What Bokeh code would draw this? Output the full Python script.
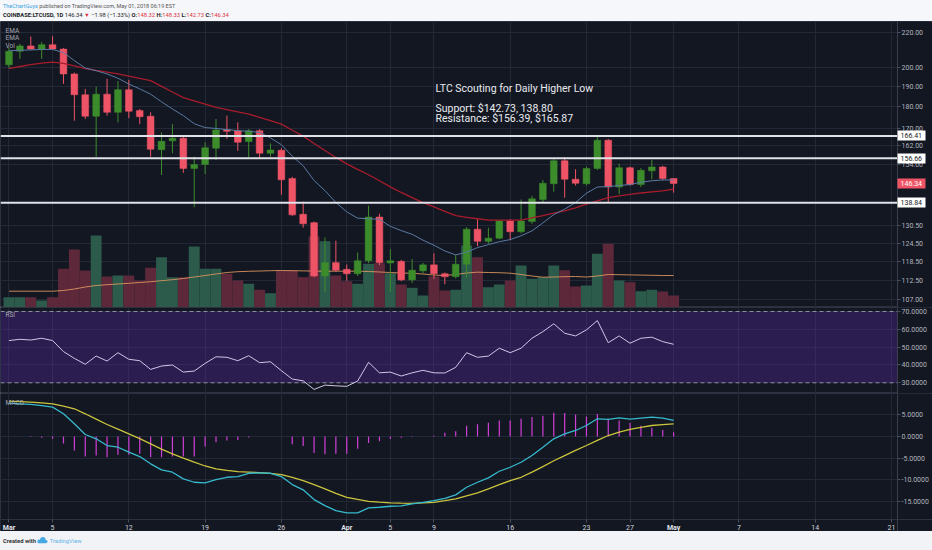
import numpy as np
import pandas as pd
from bokeh.plotting import figure
from bokeh.layouts import column
from bokeh.models import (ColumnDataSource, Range1d, LinearScale, FixedTicker, Grid,
                          LinearAxis, PrintfTickFormatter, Span, Label, Div, BoxAnnotation)
from bokeh.embed import file_html
from bokeh.resources import INLINE

# ---------------- data ----------------
dates = pd.date_range("2018-03-01", "2018-05-01", freq="D")

open_ = [201.7, 209.3, 212.3, 210.3, 213.0, 210.5, 196.8, 186.0, 175.5, 186.3,
         177.4, 188.6, 178.2, 175.5, 160.3, 164.2, 165.4, 152.4, 154.0, 161.0,
         169.2, 168.8, 163.9, 168.8, 158.8, 160.1, 148.3, 134.6, 131.6, 113.9,
         118.1, 116.0, 114.6, 118.7, 133.6, 118.0, 118.5, 112.7, 115.5, 117.4,
         114.6, 113.7, 117.6, 129.3, 125.1, 126.2, 132.2, 128.4, 132.0, 140.1,
         146.2, 155.6, 148.0, 146.2, 152.4, 164.5, 144.9, 152.7, 145.9, 151.4,
         153.0, 148.32]
high = [211.5, 213.5, 217.8, 214.5, 218.0, 211.0, 197.5, 189.0, 190.2, 194.2,
        193.0, 193.7, 179.0, 177.4, 168.0, 171.8, 166.0, 157.3, 163.6, 174.2,
        175.8, 172.6, 169.5, 169.5, 163.1, 161.0, 149.0, 139.3, 132.0, 126.4,
        125.3, 117.5, 121.4, 137.8, 134.8, 122.5, 119.0, 119.2, 118.0, 121.1,
        115.0, 120.6, 130.0, 132.8, 129.8, 132.6, 132.8, 140.1, 141.5, 147.7,
        156.3, 157.0, 152.1, 153.2, 165.9, 165.1, 154.4, 153.2, 152.5, 155.9,
        153.5, 148.33]
low = [200.0, 205.0, 210.0, 205.0, 210.0, 191.6, 173.4, 174.2, 157.3, 175.8,
       172.6, 174.6, 171.8, 157.3, 149.7, 158.8, 150.6, 137.2, 150.1, 155.9,
       165.1, 159.8, 157.0, 156.5, 157.3, 141.9, 134.0, 129.8, 113.5, 109.0,
       115.2, 112.4, 113.9, 118.0, 117.3, 109.0, 112.3, 111.8, 114.8, 113.0,
       111.4, 113.2, 113.4, 123.5, 124.3, 125.8, 125.5, 127.8, 131.2, 138.9,
       143.1, 140.8, 145.5, 145.5, 151.8, 138.9, 142.1, 145.4, 144.9, 148.0,
       147.6, 142.73]
close = [209.3, 212.3, 210.5, 213.0, 210.5, 196.8, 186.0, 175.5, 186.3, 177.4,
         188.6, 177.9, 175.3, 160.5, 164.0, 165.4, 152.4, 154.0, 161.2, 169.1,
         168.5, 163.6, 168.8, 158.8, 160.2, 147.8, 134.4, 131.2, 113.9, 118.1,
         115.7, 114.6, 118.7, 133.6, 118.1, 118.7, 112.7, 115.7, 117.4, 114.6,
         113.7, 117.6, 129.3, 125.1, 126.2, 132.2, 128.4, 132.2, 140.4, 146.4,
         155.6, 148.0, 146.4, 152.4, 164.5, 144.9, 152.7, 145.9, 151.6, 153.0,
         148.32, 146.34]
ema_fast = [209.5, 209.8, 210.0, 210.3, 210.3, 208.5, 204.0, 200.0, 198.5, 196.8,
            194.5, 191.5, 189.0, 186.3, 182.5, 179.0, 175.8, 172.0, 170.2, 169.8,
            169.3, 168.8, 168.5, 168.0, 165.5, 162.5, 157.5, 153.5, 147.5, 143.5,
            139.0, 135.5, 133.2, 133.0, 132.8, 130.3, 128.8, 127.5, 125.5, 123.8,
            121.9, 120.6, 121.5, 123.0, 124.0, 125.0, 125.7, 127.0, 128.7, 131.5,
            134.5, 136.5, 139.0, 142.5, 144.9, 145.1, 145.5, 145.9, 146.8, 147.4,
            147.7, 147.7]
ema_slow = [199.7, 200.8, 201.8, 202.6, 203.2, 202.5, 201.2, 199.7, 198.7, 197.8,
            196.8, 195.6, 194.4, 193.3, 190.3, 187.4, 184.6, 183.0, 181.4, 179.8,
            178.7, 177.6, 176.5, 175.0, 173.4, 171.8, 169.0, 166.3, 163.0, 160.0,
            157.0, 154.3, 152.0, 149.8, 147.4, 145.0, 142.8, 140.8, 138.9, 137.3,
            135.7, 134.1, 133.5, 133.0, 132.5, 132.5, 132.5, 132.5, 133.3, 134.1,
            135.0, 135.9, 137.0, 138.4, 139.6, 140.8, 141.5, 142.1, 142.6, 143.0,
            143.4, 144.1]
volume = [103, 103, 103, 70, 103, 387, 580, 370, 720, 310,
          320, 320, 270, 397, 503, 303, 303, 610, 387, 387,
          337, 270, 237, 177, 143, 370, 373, 303, 710, 663,
          320, 263, 237, 437, 443, 343, 230, 197, 120, 310,
          170, 177, 620, 503, 203, 230, 270, 420, 287, 303,
          420, 373, 210, 220, 537, 637, 270, 253, 163, 177,
          160, 120]
vol_ma = [163, 163, 163, 163, 163, 170, 185, 205, 220, 228,
          235, 242, 250, 258, 268, 278, 290, 305, 320, 335,
          350, 358, 362, 365, 368, 370, 368, 366, 364, 363,
          363, 363, 363, 360, 355, 350, 345, 342, 335, 325,
          320, 330, 345, 353, 350, 348, 343, 330, 315, 303,
          305, 308, 310, 305, 315, 330, 328, 326, 324, 322,
          320, 320]
rsi = [53.7, 54.4, 54.0, 55.0, 53.7, 47.5, 43.7, 40.4, 45.0, 42.2,
       46.9, 43.2, 42.4, 37.5, 39.4, 40.0, 36.0, 36.6, 40.9, 44.6,
       44.3, 42.4, 45.2, 41.3, 41.8, 36.8, 32.1, 31.1, 26.3, 28.7,
       28.3, 28.0, 31.0, 41.5, 35.6, 36.0, 33.8, 35.6, 37.0, 35.6,
       35.5, 38.7, 46.9, 44.3, 45.0, 49.4, 46.9, 49.4, 55.0, 58.7,
       63.1, 57.8, 56.3, 59.7, 64.9, 52.5, 56.3, 52.2, 55.0, 55.6,
       53.1, 51.6]
macd = [7.69, 7.55, 7.39, 7.10, 6.77, 5.24, 2.93, 0.46, -0.53, -2.08,
        -2.47, -3.62, -4.62, -6.30, -7.69, -8.24, -9.77, -10.55, -10.69, -9.93,
        -9.40, -9.24, -8.48, -8.38, -8.48, -9.24, -11.09, -12.30, -14.55, -15.94,
        -17.09, -17.62, -17.62, -16.47, -16.32, -16.09, -16.00, -15.54, -15.17, -14.78,
        -14.25, -13.46, -11.70, -10.55, -9.54, -8.01, -7.09, -5.93, -4.39, -2.47,
        -0.53, 0.62, 1.39, 2.54, 4.09, 3.93, 4.32, 4.00, 4.23, 4.46,
        4.23, 3.70]
signal = [8.15, 8.05, 7.92, 7.75, 7.55, 7.00, 6.40, 5.24, 4.00, 2.77,
          1.70, 0.62, -0.50, -1.69, -2.90, -4.00, -5.00, -5.93, -6.80, -7.46,
          -7.80, -8.08, -8.20, -8.31, -8.50, -8.78, -9.40, -10.16, -11.10, -12.08,
          -13.10, -14.02, -14.50, -14.94, -15.15, -15.31, -15.38, -15.40, -15.30, -15.17,
          -14.80, -14.39, -13.70, -13.00, -12.10, -11.09, -10.20, -9.40, -8.20, -6.93,
          -5.60, -4.39, -3.20, -2.08, -0.90, 0.23, 1.00, 1.62, 2.10, 2.54,
          2.75, 2.93]
hist = [0.0, 0.0, -0.1, -0.3, -0.5, -1.6, -3.2, -4.6, -4.4, -4.8,
        -4.2, -4.2, -4.0, -4.8, -4.8, -4.6, -4.6, -4.6, -2.3, -1.3,
        -0.9, -0.8, -0.2, 0.0, 0.0, 0.0, -1.8, -2.2, -3.8, -4.1,
        -4.0, -4.0, -2.8, -1.5, -1.1, -0.6, -0.3, -0.1, 0.0, 0.15,
        0.85, 1.2, 2.5, 2.8, 3.2, 3.7, 3.7, 4.1, 4.5, 4.8,
        5.5, 5.4, 5.1, 4.6, 5.2, 4.1, 3.7, 3.1, 2.5, 2.0,
        1.5, 1.0]

tick_dates = pd.to_datetime(["2018-03-01", "2018-03-05", "2018-03-12", "2018-03-19",
                             "2018-03-26", "2018-04-01", "2018-04-05", "2018-04-09",
                             "2018-04-16", "2018-04-23", "2018-04-27", "2018-05-01",
                             "2018-05-07", "2018-05-14", "2018-05-21"])
tick_labels = ["Mar", "5", "12", "19", "26", "Apr", "5", "9", "16", "23", "27",
               "May", "7", "14", "21"]
month_labels = ["Mar", "Apr", "May"]
price_ticks = [107, 112.5, 118.5, 124.5, 130.5, 154, 162, 170, 180, 190, 200, 220]
rsi_ticks = [30, 40, 50, 60, 70]
macd_ticks = [-15, -10, -5, 0, 5]
levels = [166.41, 156.66, 138.84]
last_price = 146.34
note_title = "LTC Scouting for Daily Higher Low"
note_support = "Support: $142.73, 138.80"
note_resist = "Resistance: $156.39, $165.87"

# ---------------- styling / layout ----------------
BG = "#131722"
GRID = "#232836"
UP = "#3d8c2c"
DOWN = "#ef5466"
UPV = "#2c5a4b"
DOWNV = "#5e283b"
W = 932
FONT = "Roboto"
X0, XE = -0.78, 84.76        # full frame, incl. price-scale strip
XA = 81.55                   # where the price scale starts
MACD_BOTTOM = -19.15         # level of the time axis inside the MACD pane

x = np.asarray((dates - dates[0]).days, dtype=float)
tick_x = [float(v) for v in (tick_dates - dates[0]).days]
up = [c >= o for o, c in zip(open_, close)]
src = ColumnDataSource(dict(
    x=x, o=open_, h=high, l=low, c=close,
    top=np.maximum(open_, close), bottom=np.minimum(open_, close),
    color=[UP if u else DOWN for u in up],
    vol=volume, vcolor=[UPV if u else DOWNV for u in up],
))

xr = Range1d(X0, XE)


def make_fig(fh, ticks, fmt, **kw):
    f = figure(output_backend="svg", toolbar_location=None, tools="",
               frame_width=W, frame_height=fh, x_range=xr,
               x_axis_location=None, y_axis_location=None,
               background_fill_color=BG, border_fill_color=BG,
               outline_line_color="#2e3240", min_border=0, **kw)
    f.grid.grid_line_color = None
    f.add_layout(Grid(dimension=0, ticker=FixedTicker(ticks=tick_x),
                      grid_line_color=GRID, grid_line_width=1))
    f.add_layout(Grid(dimension=1, ticker=FixedTicker(ticks=ticks),
                      grid_line_color=GRID, grid_line_width=1))
    return f


def cover_scale(f):
    f.add_layout(BoxAnnotation(left=XA, fill_color=BG, fill_alpha=1.0,
                               line_color=None, level="underlay"))


def price_axis(f, ticks, fmt):
    ax = LinearAxis(ticker=FixedTicker(ticks=ticks),
                    formatter=PrintfTickFormatter(format=fmt), fixed_location=XA,
                    axis_line_color="#3a3e4b", major_tick_line_color="#4a4e5a",
                    major_tick_out=3, major_tick_in=0, minor_tick_line_color=None,
                    major_label_standoff=1, major_label_text_font=FONT,
                    major_label_text_font_size="7px", major_label_text_color="#b2b5be")
    f.add_layout(ax, "right")


def tag_axis(f, ticks, fill, text_color):
    ax = LinearAxis(ticker=FixedTicker(ticks=ticks),
                    formatter=PrintfTickFormatter(format="%.2f"),
                    fixed_location=XA, axis_line_color=None,
                    major_tick_out=28, major_tick_in=0, major_tick_line_width=10,
                    major_tick_line_color=fill, major_tick_line_cap="butt",
                    minor_tick_line_color=None, major_label_standoff=-25,
                    major_label_text_font=FONT, major_label_text_font_size="7px",
                    major_label_text_color=text_color)
    f.add_layout(ax, "right")


def corner(f, text, ytop):
    f.add_layout(Label(x=5, y=ytop, x_units="screen", y_units="screen", text=text,
                       text_font=FONT, text_font_size="6.5px", text_color="#a3a6af",
                       text_baseline="middle"))


# ---- main price pane ----
MH = 286
p = make_fig(MH, price_ticks, "%.2f", y_axis_type="log", y_range=Range1d(104.6, 226.8))
cover_scale(p)
p.extra_y_ranges = {"vol": Range1d(0, 2860)}
p.extra_y_scales = {"vol": LinearScale()}
p.vbar(x="x", top="vol", bottom=0, width=1.0, fill_color="vcolor", line_color=None,
       y_range_name="vol", source=src)
p.line(x, vol_ma, y_range_name="vol", line_color="#e39a62", line_width=1, line_alpha=0.85)
p.segment(x0="x", y0="h", x1="x", y1="l", line_color="color", line_width=1, source=src)
p.vbar(x="x", top="top", bottom="bottom", width=0.62, fill_color="color",
       line_color="color", line_width=0.5, source=src)
p.line(x, ema_slow, line_color="#a81c2c", line_width=1.3)
p.line(x, ema_fast, line_color="#5a7aa2", line_width=1)
p.segment(x0=[X0] * len(levels), y0=levels, x1=[XA] * len(levels), y1=levels,
          line_color="#dfe2e8", line_width=2)
price_axis(p, price_ticks, "%.2f")
tag_axis(p, levels, "#ffffff", "#131722")
tag_axis(p, [last_price], DOWN, "#ffffff")

for txt, yv in [(note_title, 189.1), (note_support, 179.1), (note_resist, 174.3)]:
    p.add_layout(Label(x=39.15, y=yv, text=txt, text_font=FONT, text_font_size="10.5px",
                       text_color="#e8eaee", text_baseline="middle"))

corner(p, "EMA", MH - 9)
corner(p, "EMA", MH - 16.5)
corner(p, "Vol", MH - 24)

# ---- RSI pane ----
RH = 86
r = make_fig(RH, rsi_ticks, "%.4f", y_range=Range1d(24.0, 72.24))
r.add_layout(BoxAnnotation(bottom=30, top=70, right=XA, fill_color="#632bb8",
                           fill_alpha=0.3, line_color=None, level="underlay"))
for lv in (70, 30):
    r.add_layout(Span(location=lv, dimension="width", line_color="#8e8fa0",
                      line_width=1, line_dash="4 3", level="underlay"))
cover_scale(r)
r.line(x, rsi, line_color="#cfc6ea", line_width=1)
price_axis(r, rsi_ticks, "%.4f")
corner(r, "RSI", RH - 7)

# ---- MACD pane (time axis drawn inside its bottom strip) ----
KH = 138
m = make_fig(KH, macd_ticks, "%.4f", y_range=Range1d(-21.91, 9.92))
m.add_layout(BoxAnnotation(top=MACD_BOTTOM, fill_color=BG, fill_alpha=1.0,
                           line_color=None, level="underlay"))
cover_scale(m)
m.segment(x0=x, y0=np.zeros(len(x)), x1=x, y1=hist, line_color="#d03fd8", line_width=1.2)
m.line(x, signal, line_color="#cbc43c", line_width=1.3)
m.line(x, macd, line_color="#36b9cc", line_width=1.3)
price_axis(m, macd_ticks, "%.4f")

xa = LinearAxis(ticker=FixedTicker(ticks=tick_x), fixed_location=MACD_BOTTOM,
                major_label_overrides={tx: (" " if tl in month_labels else tl)
                                       for tx, tl in zip(tick_x, tick_labels)},
                axis_line_color="#2e3240", major_tick_line_color="#4a4e5a",
                major_tick_out=3, major_tick_in=0, minor_tick_line_color=None,
                major_label_standoff=1, major_label_text_font=FONT,
                major_label_text_font_size="7px", major_label_text_color="#d1d4dc")
m.add_layout(xa, "below")
month_x = [tx for tx, tl in zip(tick_x, tick_labels) if tl in month_labels]
ma = LinearAxis(ticker=FixedTicker(ticks=month_x), fixed_location=MACD_BOTTOM,
                major_label_overrides={tx: tl for tx, tl in zip(tick_x, tick_labels)
                                       if tl in month_labels},
                axis_line_color=None, major_tick_line_color=None, major_tick_out=3,
                major_tick_in=0, minor_tick_line_color=None, major_label_standoff=1,
                major_label_text_font=FONT, major_label_text_font_size="7px",
                major_label_text_font_style="bold", major_label_text_color="#e0e3eb")
m.add_layout(ma, "below")
corner(m, "MACD", KH - 9)

# ---- header / footer ----
RED = "#e2323f"
header_html = (
    '<div style="font-family:Roboto,sans-serif;font-size:5.5px;line-height:9px;color:#555;'
    'padding:2px 3px 0 3px;white-space:nowrap">'
    '<div><span style="color:#3aa3df">TheChartGuys</span> published on TradingView.com, '
    'May 01, 2018 06:19 EST</div>'
    '<div style="color:#222;font-size:5.8px"><b>COINBASE:LTCUSD, 1D</b> 146.34 '
    f'<span style="color:{RED}">&#9660;</span> &minus;1.98 (&minus;1.33%) '
    f'<b>O:</b><span style="color:{RED}">148.32</span> '
    f'<b>H:</b><span style="color:{RED}">148.33</span> '
    f'<b>L:</b><span style="color:{RED}">142.73</span> '
    f'<b>C:</b><span style="color:{RED}">146.34</span></div></div>'
)
header = Div(text=header_html, width=W, height=21, margin=0,
             styles={"background-color": "#f5f7fa"})

footer_html = (
    '<div style="font-family:Roboto,sans-serif;font-size:5.8px;line-height:19px;'
    'color:#333;padding-left:3px;white-space:nowrap">'
    '<b>Created with</b> '
    '<svg width="11" height="8" viewBox="0 0 12 8" style="vertical-align:-1px">'
    '<path d="M2.5 7.5 Q0 7.5 0.5 5 Q1 3.2 3 3.6 Q3.8 0.3 7 0.8 Q9.6 1.3 9.5 4 '
    'Q12 4.2 11.5 6.3 Q11.2 7.5 9.5 7.5 Z" fill="#45a8e2"/></svg> '
    '<span style="color:#5fb3e8">TradingView</span></div>'
)
footer = Div(text=footer_html, width=W, height=19, margin=0,
             styles={"background-color": "#f1f3f7"})

layout = column(header, p, r, m, footer, spacing=0)
open("out.html", "w").write(file_html(layout, INLINE))
